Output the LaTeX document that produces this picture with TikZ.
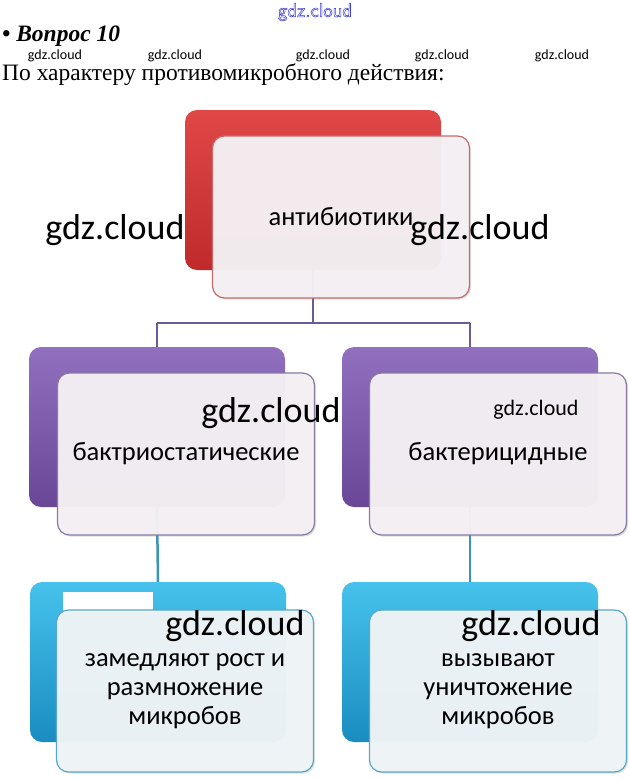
\documentclass[tikz,border=0pt]{standalone}
\usepackage{fontspec}
\setmainfont{Liberation Serif}
\newfontfamily\calfont{Carlito}
\usetikzlibrary{shadows}
\definecolor{redT}{HTML}{E04848}
\definecolor{redB}{HTML}{C02A2A}
\definecolor{purT}{HTML}{9270C0}
\definecolor{purB}{HTML}{6A4696}
\definecolor{bluT}{HTML}{46C2EC}
\definecolor{bluB}{HTML}{1A8CC0}
\definecolor{frontfill}{HTML}{F4F0F3}
\definecolor{frontfillb}{HTML}{EFF4F6}
\definecolor{redline}{HTML}{C86A6A}
\definecolor{purline}{HTML}{8A7AA8}
\definecolor{bluline}{HTML}{5AA8C8}
\definecolor{conpur}{HTML}{6A5A98}
\definecolor{conblu}{HTML}{3A94B8}
\definecolor{wmblue}{HTML}{3C3CD0}
\tikzset{
  backbox/.style={rounded corners=12pt, minimum width=256pt, minimum height=160pt, inner sep=0pt, draw=none},
  redbox/.style={backbox, top color=redT, bottom color=redB},
  purbox/.style={backbox, top color=purT, bottom color=purB},
  blubox/.style={backbox, top color=bluT, bottom color=bluB},
  frontbox/.style={rounded corners=12pt, minimum width=257pt, minimum height=162pt, inner sep=0pt,
     fill=frontfill, fill opacity=0.97, text opacity=1, line width=1.2pt, align=center,
     font=\calfont\fontsize{26.5}{29}\selectfont,
     drop shadow={opacity=0.25, shadow xshift=1.5pt, shadow yshift=-1.5pt}},
  conn/.style={line width=2.5pt},
  wmbig/.style={font=\calfont\fontsize{36}{40}\selectfont, inner sep=0pt},
  wmsmall/.style={font=\calfont\fontsize{14}{16}\selectfont, inner sep=0pt}
}
\begin{document}
\begin{tikzpicture}[x=1pt,y=-1pt]
\useasboundingbox (0,0) rectangle (629,779);
\fill[white] (0,0) rectangle (629,779);
% header
\node[font=\fontsize{20}{22}\selectfont\sffamily, text=wmblue, inner sep=0pt] (wmtop) at (315,12)
  {\special{pdf:literal direct 1 Tr 0.5 w}gdz.cloud\special{pdf:literal direct 0 Tr}};
\node[anchor=base west, font=\fontsize{23.5}{26}\selectfont\bfseries\itshape, inner sep=0pt] (q) at (2,41) {• Вопрос 10};
\node[anchor=base west, font=\fontsize{23.5}{26}\selectfont, inner sep=0pt] (sub) at (2,80) {По характеру противомикробного действия:};
\foreach \x/\n in {55/a,175/b,323/c,442/d,562/e}
  \node[wmsmall] (ws\n) at (\x,56) {gdz.cloud};
% back boxes and connectors
\coordinate (j1) at (313,323);
\coordinate (jl) at (157,323);
\coordinate (jr) at (470,323);
\node[redbox] (tb) at (313,190) {};
\node[purbox] (mlb) at (157,427) {};
\node[purbox] (mrb) at (470,427) {};
\node[blubox] (blb) at (158,662) {};
\node[blubox] (brb) at (470,662) {};
\draw[conn, conpur] (tb.south) -- (j1);
\draw[conn, conpur] (jl) -- (jr);
\draw[conn, conpur] (jl) -- (mlb.north);
\draw[conn, conpur] (jr) -- (mrb.north);
\draw[conn, conblu] (mlb.south) -- (blb.north);
\draw[conn, conblu] (mrb.south) -- (brb.north);
% white patch
\fill[white] (63,592) rectangle (153,613);
% front boxes
\node[frontbox, draw=redline] (tf) at (341,217) {антибиотики};
\node[frontbox, draw=purline] (mlf) at (186,454) {бактриостатические};
\node[frontbox, draw=purline] (mrf) at (498,454) {бактерицидные};
\node[frontbox, draw=bluline, fill=frontfillb] (blf) at (185,691) {замедляют рост и\\размножение\\микробов};
\node[frontbox, draw=bluline, fill=frontfillb] (brf) at (498,691) {вызывают\\уничтожение\\микробов};
% watermarks
\node[wmbig] (w1) at (115,230) {gdz.cloud};
\node[wmbig] (w2) at (480,230) {gdz.cloud};
\node[wmbig] (w3) at (271,413) {gdz.cloud};
\node[font=\calfont\fontsize{22}{24}\selectfont, inner sep=0pt] (w4) at (536,410) {gdz.cloud};
\node[wmbig] (w5) at (235,626) {gdz.cloud};
\node[wmbig] (w6) at (531,626) {gdz.cloud};
\end{tikzpicture}
\end{document}
